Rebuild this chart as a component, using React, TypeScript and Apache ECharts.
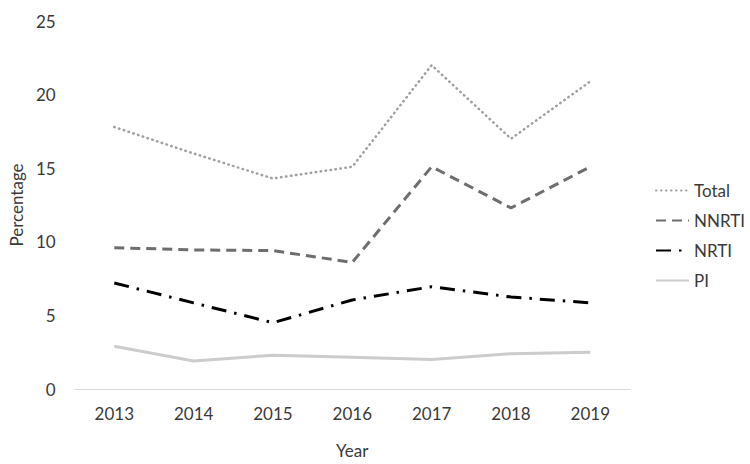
import React, { useEffect, useRef } from "react";
import * as echarts from "echarts";

const years = ["2013", "2014", "2015", "2016", "2017", "2018", "2019"];
const total = [17.8, 16.0, 14.3, 15.1, 22.0, 17.0, 20.9];
const nnrti = [9.6, 9.45, 9.4, 8.6, 15.1, 12.3, 15.1];
const nrti = [7.2, 5.85, 4.5, 6.05, 6.95, 6.25, 5.85];
const pi = [2.9, 1.9, 2.3, 2.15, 2.0, 2.4, 2.5];

const FONT = "Lato";
const TEXT = "#3a3a3a";

export default function App() {
  const ref = useRef<HTMLDivElement>(null);
  useEffect(() => {
    document.body.style.margin = "0";
    if (!ref.current) return;
    const chart = echarts.init(ref.current, undefined, { renderer: "svg" });
    const mk = (name: string, data: number[], color: string, width: number, type: any, cap: any = "butt") => ({
      name,
      type: "line",
      data,
      symbol: "none",
      showSymbol: false,
      lineStyle: { color, width, type, cap },
      itemStyle: { color },
    });
    chart.setOption({
      animation: false,
      backgroundColor: "#fff",
      textStyle: { fontFamily: FONT },
      grid: { left: 74, right: 120, top: 21, bottom: 75 },
      legend: {
        orient: "vertical",
        left: 650,
        top: 177,
        itemWidth: 33,
        itemHeight: 14,
        itemGap: 13,
        itemStyle: { opacity: 0 },
        textStyle: { color: TEXT, fontSize: 17, fontFamily: FONT },
        data: ["Total", "NNRTI", "NRTI", "PI"],
      },
      xAxis: {
        type: "category",
        data: years,
        boundaryGap: true,
        name: "Year",
        nameLocation: "middle",
        nameGap: 53,
        nameTextStyle: { color: TEXT, fontSize: 17, fontFamily: FONT },
        axisLine: { lineStyle: { color: "#d9d9d9", width: 1 } },
        axisTick: { show: false },
        axisLabel: { color: TEXT, fontSize: 17, fontFamily: FONT, margin: 16 },
      },
      yAxis: {
        type: "value",
        min: 0,
        max: 25,
        interval: 5,
        name: "Percentage",
        nameLocation: "middle",
        nameGap: 45,
        nameTextStyle: { color: TEXT, fontSize: 17, fontFamily: FONT },
        axisLine: { show: false },
        axisTick: { show: false },
        splitLine: { show: false },
        axisLabel: { color: TEXT, fontSize: 17, fontFamily: FONT, margin: 19 },
      },
      series: [
        mk("Total", total, "#a0a0a0", 2.5, [0.5, 4.5], "round"),
        mk("NNRTI", nnrti, "#6e6e6e", 3, [10, 6]),
        mk("NRTI", nrti, "#000000", 3, [15, 8, 2.5, 8]),
        mk("PI", pi, "#cccccc", 3, "solid"),
      ],
    });
    return () => chart.dispose();
  }, []);
  return <div ref={ref} style={{ width: 750, height: 464 }} />;
}
